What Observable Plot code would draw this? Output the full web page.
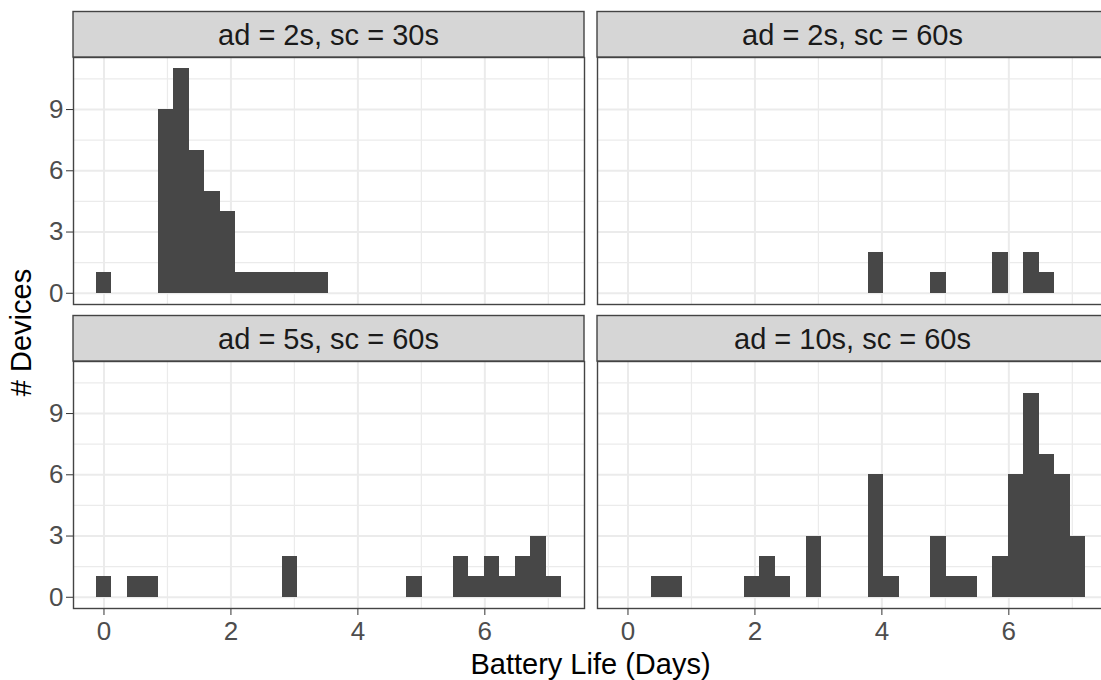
<!DOCTYPE html>
<html>
<head>
<meta charset="utf-8">
<script src="https://cdn.jsdelivr.net/npm/d3@7"></script>
<script src="https://cdn.jsdelivr.net/npm/@observablehq/plot@0.6"></script>
<style>
  html, body { margin: 0; padding: 0; background: #ffffff; overflow: hidden; }
  #chart { width: 1114px; height: 680px; }
  #chart svg [aria-label="x-axis tick label"] text,
  #chart svg [aria-label="y-axis tick label"] text,
  #chart svg [aria-label="x-axis"] text,
  #chart svg [aria-label="y-axis"] text { fill: #4d4d4d; }
</style>
</head>
<body>
<div id="chart"></div>
<script>
// ---- Data (histogram bin counts, 30 shared bins) ----
const panelLabels = ["ad = 2s, sc = 30s", "ad = 2s, sc = 60s", "ad = 5s, sc = 60s", "ad = 10s, sc = 60s"];
const panelRows = [0, 0, 1, 1];
const panelCols = [0, 1, 0, 1];

const binWidth = 0.2444;
const binCenters = [0.0000, 0.2444, 0.4888, 0.7332, 0.9776, 1.2220, 1.4664, 1.7108, 1.9552, 2.1996,
                    2.4440, 2.6884, 2.9328, 3.1772, 3.4216, 3.6660, 3.9104, 4.1548, 4.3992, 4.6436,
                    4.8880, 5.1324, 5.3768, 5.6212, 5.8656, 6.1100, 6.3544, 6.5988, 6.8432, 7.0876];

const countsAd2Sc30  = [1, 0, 0, 0, 9, 11, 7, 5, 4, 1, 1, 1, 1, 1, 1, 0, 0, 0, 0, 0, 0, 0, 0, 0, 0, 0, 0, 0, 0, 0];
const countsAd2Sc60  = [0, 0, 0, 0, 0, 0, 0, 0, 0, 0, 0, 0, 0, 0, 0, 0, 2, 0, 0, 0, 1, 0, 0, 0, 2, 0, 2, 1, 0, 0];
const countsAd5Sc60  = [1, 0, 1, 1, 0, 0, 0, 0, 0, 0, 0, 0, 2, 0, 0, 0, 0, 0, 0, 0, 1, 0, 0, 2, 1, 2, 1, 2, 3, 1];
const countsAd10Sc60 = [0, 0, 1, 1, 0, 0, 0, 0, 1, 2, 1, 0, 3, 0, 0, 0, 6, 1, 0, 0, 3, 1, 1, 0, 2, 6, 10, 7, 6, 3];
const panelCounts = [countsAd2Sc30, countsAd2Sc60, countsAd5Sc60, countsAd10Sc60];

const xTicks = [0, 2, 4, 6];
const xMinorTicks = [1, 3, 5, 7];
const yTicks = [0, 3, 6, 9];
const yMinorTicks = [1.5, 4.5, 7.5, 10.5];
const xDomain = [-0.48, 7.57];
const yDomain = [-0.55, 11.55];

const xTitle = "Battery Life (Days)";
const yTitle = "# Devices";

// ---- Build table for the library ----
const bars = [];
panelCounts.forEach((counts, p) => {
  counts.forEach((c, i) => {
    if (c > 0) bars.push({
      panel: panelLabels[p], row: panelRows[p], col: panelCols[p],
      x1: binCenters[i] - binWidth / 2, x2: binCenters[i] + binWidth / 2, count: c
    });
  });
});

const M = {top: 56.7, bottom: 72.3, left: 72, right: 5.3};
const barColor = "#474747";
const gridColor = "#ebebeb";

const chart = Plot.plot({
  width: 1114,
  height: 680,
  marginTop: M.top, marginBottom: M.bottom, marginLeft: M.left, marginRight: M.right,
  facet: {data: bars, x: "col", y: "row",
          marginTop: M.top, marginBottom: M.bottom, marginLeft: M.left, marginRight: M.right},
  fx: {domain: [0, 1], axis: null, label: null, paddingInner: 0.0242, paddingOuter: 0},
  fy: {domain: [0, 1], axis: null, label: null, paddingInner: 0.1887, paddingOuter: 0},
  x: {domain: xDomain, ticks: xTicks, tickSize: 7, tickPadding: 6, label: null},
  y: {domain: yDomain, ticks: yTicks, tickSize: 7, tickPadding: 3, label: null},
  style: {fontFamily: "'Liberation Sans', Arial, sans-serif", fontSize: "26px", color: "#333333", background: "#ffffff", overflow: "visible"},
  marks: [
    Plot.ruleX(xMinorTicks, {stroke: gridColor, strokeWidth: 1.2}),
    Plot.ruleY(yMinorTicks, {stroke: gridColor, strokeWidth: 1.2}),
    Plot.ruleX(xTicks, {stroke: gridColor, strokeWidth: 2}),
    Plot.ruleY(yTicks, {stroke: gridColor, strokeWidth: 2}),
    Plot.rect(bars, {x1: "x1", x2: "x2", y1: () => 0, y2: "count", fill: barColor, shapeRendering: "crispEdges"}),
    Plot.frame({stroke: "#444444", strokeWidth: 1.4})
  ]
});

document.getElementById("chart").appendChild(chart);

// ---- Facet strips and axis titles, positioned from the library's scales ----
const svg = d3.select(chart);
const fxS = chart.scale("fx");
const fyS = chart.scale("fy");
const stripH = 45.5;
panelLabels.forEach((label, p) => {
  const x0 = fxS.apply(panelCols[p]);
  const y0 = fyS.apply(panelRows[p]);
  const bw = fxS.bandwidth;
  const g = svg.append("g").attr("aria-label", "strip");
  g.append("rect")
    .attr("x", x0).attr("y", y0 - stripH)
    .attr("width", bw).attr("height", stripH)
    .attr("fill", "#d6d6d6").attr("stroke", "#444444").attr("stroke-width", 1.4);
  g.append("text")
    .attr("x", x0 + bw / 2).attr("y", y0 - stripH / 2)
    .attr("dy", "0.36em")
    .attr("text-anchor", "middle")
    .attr("fill", "#1a1a1a")
    .style("font-size", "29px")
    .text(label);
});

const xr = [fxS.apply(0), fxS.apply(1) + fxS.bandwidth];
const yr = [fyS.apply(0), fyS.apply(1) + fyS.bandwidth];
svg.append("text")
  .attr("x", (xr[0] + xr[1]) / 2).attr("y", 673.5)
  .attr("text-anchor", "middle").attr("fill", "#000000")
  .style("font-size", "29px")
  .text(xTitle);
svg.append("text")
  .attr("transform", `translate(21,${(yr[0] + yr[1]) / 2}) rotate(-90)`)
  .attr("dy", "0.36em")
  .attr("text-anchor", "middle").attr("fill", "#000000")
  .style("font-size", "29px")
  .text(yTitle);
</script>
</body>
</html>
